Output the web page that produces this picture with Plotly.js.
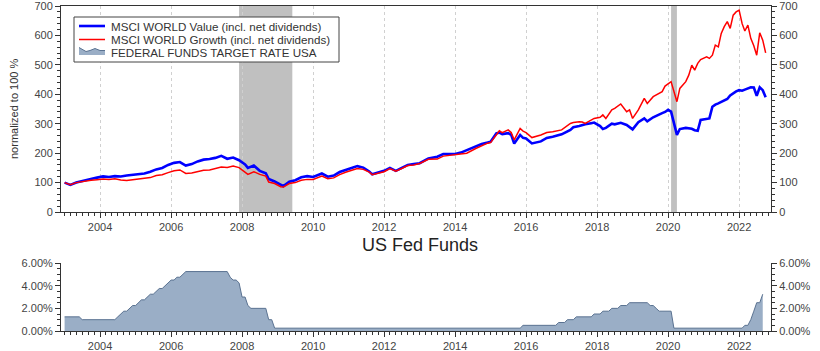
<!DOCTYPE html>
<html>
<head>
<meta charset="utf-8">
<script src="https://cdn.plot.ly/plotly-3.0.1.min.js"></script>
<style>
html,body{margin:0;padding:0;background:#fff;}
#chart{width:820px;height:351px;}
</style>
</head>
<body>
<div id="chart"></div>
<script>
// ---- Data ----
const stockDates = [
'2003-01','2003-03','2003-05','2003-07','2003-09','2003-10','2003-12',
'2004-02','2004-04','2004-06','2004-08','2004-10','2004-12',
'2005-02','2005-04','2005-06','2005-08','2005-10','2005-12',
'2006-02','2006-04','2006-06','2006-08','2006-10','2006-12',
'2007-02','2007-04','2007-06','2007-08','2007-10','2007-12',
'2008-02','2008-03','2008-05','2008-07','2008-09','2008-10','2008-12',
'2009-02','2009-03','2009-05','2009-07','2009-09','2009-11',
'2010-01','2010-04','2010-06','2010-08','2010-10','2010-12',
'2011-02','2011-04','2011-06','2011-08','2011-09','2011-11',
'2012-01','2012-03','2012-05','2012-07','2012-09','2012-11',
'2013-01','2013-04','2013-06','2013-07','2013-09','2013-11',
'2014-01','2014-03','2014-05','2014-08','2014-10','2014-12',
'2015-01','2015-03','2015-04','2015-05','2015-07','2015-08','2015-09','2015-11','2015-12',
'2016-01','2016-03','2016-06','2016-08','2016-10','2016-12',
'2017-01','2017-04','2017-05','2017-07','2017-08','2017-09','2017-11','2017-12',
'2018-02','2018-03','2018-04','2018-06','2018-07','2018-09','2018-11','2018-12',
'2019-01','2019-03','2019-05','2019-06','2019-08','2019-11','2019-12',
'2020-01','2020-02','2020-04','2020-05','2020-07','2020-08','2020-09','2020-10','2020-11','2020-12',
'2021-02','2021-03','2021-04','2021-05','2021-06','2021-07','2021-08','2021-09','2021-10','2021-11','2021-12',
'2022-01','2022-02','2022-03','2022-04','2022-05','2022-06','2022-07','2022-08','2022-09','2022-10'
];
const valueSeries = [
100,92,100,105,110,114,117,
121,119,122,121,124,127,
130,131,137,145,150,160,
167,170,158,163,172,178,
180,184,191,181,185,176,
162,150,158,140,132,112,104,
91,88,103,108,118,122,
119,131,120,124,136,144,
150,156,151,138,128,134,
140,150,140,150,160,163,
166,182,186,188,197,198,
197,202,211,222,231,236,
239,267,270,265,268,262,233,262,252,
250,233,240,252,256,262,
264,279,288,292,296,298,302,304,
292,282,286,300,298,303,296,290,
281,305,318,308,322,336,340,
347,341,262,282,286,285,283,278,276,313,
316,318,358,365,369,374,380,384,396,404,410,
414,412,416,420,424,423,395,424,414,390
];
const growthSeries = [
100,93,100,104,106,108,110,
112,111,113,109,107,110,
112,113,117,124,127,134,
140,143,131,133,138,142,
143,147,153,151,156,151,
136,128,137,128,122,102,97,
86,85,97,100,108,111,
111,122,113,116,127,135,
142,148,145,136,127,131,
137,148,139,148,158,160,
165,179,178,180,190,192,
194,196,200,216,226,234,
236,265,276,270,279,270,245,284,275,
270,253,262,270,273,277,
279,301,304,307,306,301,312,318,
322,330,318,347,352,367,341,347,
318,347,386,369,392,409,428,
436,443,375,420,443,465,499,482,505,518,
527,522,533,567,561,607,630,647,624,669,680,
686,640,615,635,590,565,533,609,584,541
];
const fedDates = [
'2003-01','2003-06','2003-07','2004-06','2004-07','2004-08','2004-09','2004-10','2004-11','2004-12',
'2005-01','2005-02','2005-03','2005-04','2005-05','2005-06','2005-07','2005-08','2005-09','2005-10','2005-11','2005-12',
'2006-01','2006-02','2006-03','2006-04','2006-05','2006-06','2007-08','2007-09','2007-10','2007-11','2007-12',
'2008-01','2008-02','2008-03','2008-04','2008-09','2008-10','2008-11','2008-12',
'2015-11','2015-12','2016-11','2016-12','2017-02','2017-03','2017-05','2017-06','2017-11','2017-12',
'2018-02','2018-03','2018-05','2018-06','2018-08','2018-09','2018-11','2018-12',
'2019-06','2019-07','2019-08','2019-09','2019-10','2020-02','2020-03',
'2022-02','2022-03','2022-04','2022-05','2022-06','2022-07','2022-08','2022-09'
];
const fedRate = [
1.25,1.25,1.00,1.00,1.25,1.50,1.75,1.75,2.00,2.25,
2.25,2.50,2.75,2.75,3.00,3.25,3.25,3.50,3.75,3.75,4.00,4.25,
4.50,4.50,4.75,4.75,5.00,5.25,5.25,4.75,4.50,4.50,4.25,
3.00,3.00,2.25,2.00,2.00,1.00,1.00,0.25,
0.25,0.50,0.50,0.75,0.75,1.00,1.00,1.25,1.25,1.50,
1.50,1.75,1.75,2.00,2.00,2.25,2.25,2.50,
2.50,2.25,2.25,2.00,1.75,1.75,0.25,
0.25,0.50,0.50,1.00,1.75,2.50,2.50,3.25
];
const recessions = [['2007-12-01','2009-06-01'],['2020-02-01','2020-04-01']];
const seriesNames = ['MSCI WORLD Value (incl. net dividends)','MSCI WORLD Growth (incl. net dividends)','FEDERAL FUNDS TARGET RATE USA'];
const seriesColors = ['#0000ff','#ff0000','#9aaec6'];

// ---- Layout helpers (plot area: l=61, width 710, t=6, height 325) ----
const PL = 61, PW = 710, PT = 6, PH = 325;
const px = x => (x - PL) / PW;
const py = y => (PT + PH - y) / PH;

const traces = [
  {x: stockDates, y: valueSeries, type:'scatter', mode:'lines', name:seriesNames[0], showlegend:false,
   line:{color:seriesColors[0], width:2.6}, xaxis:'x', yaxis:'y'},
  {x: stockDates, y: growthSeries, type:'scatter', mode:'lines', name:seriesNames[1], showlegend:false,
   line:{color:seriesColors[1], width:1.5}, xaxis:'x', yaxis:'y'},
  {x: fedDates, y: fedRate, type:'scatter', mode:'lines', name:seriesNames[2], showlegend:false,
   fill:'tozeroy', fillcolor:seriesColors[2], line:{color:'#5a7291', width:1}, xaxis:'x2', yaxis:'y2'},
  {x: stockDates, y: valueSeries, type:'scatter', mode:'lines', showlegend:false, hoverinfo:'skip',
   line:{color:'rgba(0,0,0,0)', width:0}, xaxis:'x', yaxis:'y3'},
  {x: fedDates, y: fedRate, type:'scatter', mode:'lines', showlegend:false, hoverinfo:'skip',
   line:{color:'rgba(0,0,0,0)', width:0}, xaxis:'x2', yaxis:'y4'}
];

const FONT = '"Liberation Sans", Arial, sans-serif';
const tickFont = {family:FONT, size:11, color:'#444'};
const xRange = ['2002-11-25','2022-11-25'];
const topDom = [0.366, 1];
const botDom = [0, 0.209];

const xCommon = {
  type:'date', range:xRange, tick0:'2004-01-01', dtick:'M24', tickformat:'%Y',
  ticks:'outside', ticklen:5, tickcolor:'#333', tickfont:tickFont,
  showline:true, linecolor:'#333', linewidth:1, zeroline:false,
  minor:{dtick:'M2', ticks:'outside', ticklen:3, tickcolor:'#333', showgrid:false}
};
const yCommon = {ticks:'outside', ticklen:5, tickcolor:'#333', tickfont:tickFont, showline:true, linecolor:'#333',
  showgrid:false, zeroline:false, ticklabeloverflow:'allow'};

const legendShapes = [
  {type:'rect', xref:'paper', yref:'paper', x0:px(74), x1:px(339), y0:py(62), y1:py(17),
   fillcolor:'#fff', line:{color:'#444', width:1}, layer:'above'},
  {type:'line', xref:'paper', yref:'paper', x0:px(79), x1:px(105), y0:py(26), y1:py(26),
   line:{color:seriesColors[0], width:2.6}, layer:'above'},
  {type:'line', xref:'paper', yref:'paper', x0:px(79), x1:px(105), y0:py(39.5), y1:py(39.5),
   line:{color:seriesColors[1], width:1.5}, layer:'above'},
  {type:'path', xref:'paper', yref:'paper', layer:'above', fillcolor:seriesColors[2], line:{width:0},
   path:`M ${px(79)} ${py(55)} L ${px(79)} ${py(47.5)} L ${px(86)} ${py(51.5)} L ${px(90)} ${py(50.5)} L ${px(95)} ${py(48.5)} L ${px(100)} ${py(50.5)} L ${px(105)} ${py(50.5)} L ${px(105)} ${py(55)} Z`},
  {type:'path', xref:'paper', yref:'paper', layer:'above', line:{color:'#5a7291', width:1},
   path:`M ${px(79)} ${py(47.5)} L ${px(86)} ${py(51.5)} L ${px(90)} ${py(50.5)} L ${px(95)} ${py(48.5)} L ${px(100)} ${py(50.5)} L ${px(105)} ${py(50.5)}`}
];
const legendRowsY = [26, 39.5, 53];
const legendTexts = seriesNames.map((t,i) => ({text:t, xref:'paper', yref:'paper', x:px(109), y:py(legendRowsY[i]),
  xanchor:'left', yanchor:'middle', showarrow:false, font:{family:FONT, size:11.6, color:'#333'}}));

const layout = {
  width:820, height:351,
  margin:{l:PL, r:820-PL-PW, t:PT, b:351-PT-PH},
  paper_bgcolor:'#fff', plot_bgcolor:'#fff',
  showlegend:false,
  xaxis: Object.assign({}, xCommon, {anchor:'y', domain:[0,1], mirror:true,
          showgrid:true, gridcolor:'#d0d0d0', griddash:'dot', gridwidth:1}),
  xaxis2: Object.assign({}, xCommon, {anchor:'y2', domain:[0,1], showgrid:false}),
  yaxis: Object.assign({}, yCommon, {domain:topDom, anchor:'x', range:[0,700], dtick:100,
          minor:{dtick:20, ticks:'outside', ticklen:3, tickcolor:'#333', showgrid:false}}),
  yaxis3: Object.assign({}, yCommon, {domain:topDom, anchor:'x', overlaying:'y', side:'right', range:[0,700], dtick:100,
          minor:{dtick:20, ticks:'outside', ticklen:3, tickcolor:'#333', showgrid:false}}),
  yaxis2: Object.assign({}, yCommon, {domain:botDom, anchor:'x2', range:[0,6], dtick:2, tickformat:'.2f', ticksuffix:'%',
          minor:{dtick:0.5, ticks:'outside', ticklen:3, tickcolor:'#333', showgrid:false}}),
  yaxis4: Object.assign({}, yCommon, {domain:botDom, anchor:'x2', overlaying:'y2', side:'right', range:[0,6], dtick:2,
          tickformat:'.2f', ticksuffix:'%',
          minor:{dtick:0.5, ticks:'outside', ticklen:3, tickcolor:'#333', showgrid:false}}),
  shapes: recessions.map(r => ({type:'rect', xref:'x', yref:'y domain', x0:r[0], x1:r[1], y0:0, y1:1,
          fillcolor:'#c0c0c0', line:{width:0}, layer:'below'})).concat(legendShapes),
  annotations:[
    {text:'US Fed Funds', xref:'paper', yref:'paper', x:px(420), y:py(245), xanchor:'center', yanchor:'middle',
     showarrow:false, font:{family:FONT, size:18, color:'#222'}},
    {text:'normalized to 100 %', xref:'paper', yref:'paper', x:px(14), y:py(109), xanchor:'center', yanchor:'middle',
     textangle:-90, showarrow:false, font:{family:FONT, size:11, color:'#333'}}
  ].concat(legendTexts)
};

Plotly.newPlot('chart', traces, layout, {staticPlot:true, displayModeBar:false});
</script>
</body>
</html>
